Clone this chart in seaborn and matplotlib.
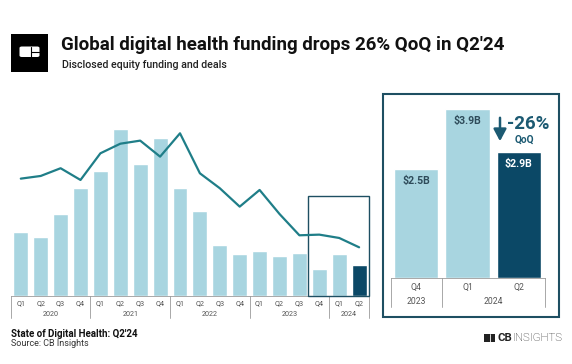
import numpy as np
import pandas as pd
import matplotlib
matplotlib.use("Agg")
import matplotlib.pyplot as plt
import seaborn as sns
from matplotlib.patches import Rectangle, FancyBboxPatch, FancyArrowPatch
from matplotlib.lines import Line2D

sns.set_theme(style="white")
plt.rcParams['font.family'] = ['Roboto', 'DejaVu Sans']

# ---------------- data ----------------
quarters = ["Q1", "Q2", "Q3", "Q4"] * 4 + ["Q1", "Q2"]
years = ["2020", "2021", "2022", "2023", "2024"]
funding_b = [6.0, 5.5, 7.6, 10.1, 11.7, 15.6, 12.3, 14.7, 10.1, 7.9,
             4.7, 3.9, 4.2, 3.7, 4.0, 2.5, 3.9, 2.9]
deals = [878, 898, 956, 868, 1068, 1140, 1163, 1043, 1218, 918,
         806, 668, 793, 613, 453, 458, 433, 363]

zoom_quarters = ["Q4", "Q1", "Q2"]
zoom_years = ["2023", "2024"]
zoom_funding = [2.5, 3.9, 2.9]
zoom_labels = ["$2.5B", "$3.9B", "$2.9B"]
change_label = "-26%"

title = "Global digital health funding drops 26% QoQ in Q2'24"
subtitle = "Disclosed equity funding and deals"
footer1 = "State of Digital Health: Q2'24"
footer2 = "Source: CB Insights"

LIGHT = "#A8D5E0"
DARK = "#0B4866"
LINE = "#1F7E88"
BOX = "#1E4F62"
TXT = "#555555"

W, H = 572, 364
fig = plt.figure(figsize=(W / 100, H / 100), dpi=100)
fig.patch.set_facecolor("white")


def fx(x):
    return x / W


def fy(y):
    return 1 - y / H


# ---------------- main chart ----------------
base = 295.7
top = 100.0
ax = fig.add_axes([fx(10.85), fy(base), 358.2 / W, (base - top) / H])
year_of = [y for y in years[:4] for _ in range(4)] + ["2024", "2024"]
periods = [f"{q} {y}" for q, y in zip(quarters, year_of)]
df = pd.DataFrame({"period": periods, "funding": funding_b,
                   "kind": ["hi" if i == len(periods) - 1 else "lo" for i in range(len(periods))]})
sns.barplot(data=df, x="period", y="funding", hue="kind", palette={"lo": LIGHT, "hi": DARK},
            dodge=False, width=0.75, ax=ax, legend=False, saturation=1)
ax.set_xlim(-0.5, 17.5)
ax.set_ylim(0, (base - top) / 10.7)
ax.set_xlabel("")
ax.set_ylabel("")
ax.set_yticks([])
ax.set_xticks(range(18))
ax.set_xticklabels(quarters, fontsize=5.2, color=TXT)
ax.tick_params(axis="x", length=0, pad=3.0)
for s in ["top", "right", "left"]:
    ax.spines[s].set_visible(False)
ax.spines["bottom"].set_color("#9a9a9a")
ax.spines["bottom"].set_linewidth(0.6)

ax2 = ax.twinx()
sns.lineplot(x=np.arange(18), y=deals, ax=ax2, color=LINE, linewidth=1.6)
ax2.set_ylim(0, (base - top) * 7.5)
ax2.set_yticks([])
ax2.set_ylabel("")
for s in ax2.spines.values():
    s.set_visible(False)
ax2.set_xlim(-0.5, 17.5)

# year groups
tr = ax.get_xaxis_transform()
dy = -22.3 / (base - top)
group_edges = [-0.5, 3.5, 7.5, 11.5, 15.5, 17.5]
for e in group_edges:
    ax.add_line(Line2D([e, e], [0, dy], transform=tr, color="#9a9a9a", lw=0.6, clip_on=False))
for i, yr in enumerate(years):
    c = (group_edges[i] + group_edges[i + 1]) / 2
    ax.text(c, -18.6 / (base - top), yr, transform=tr, ha="center", va="center",
            fontsize=5.2, color=TXT)

# highlight box in main chart
ax.add_patch(Rectangle((14.43, 0), 3.05, (base - 196) / 10.7, fill=False,
                       edgecolor=BOX, lw=1.0, clip_on=False, zorder=5))

# ---------------- zoom panel ----------------
fig.add_artist(Rectangle((fx(383.3), fy(317.3)), (558.7 - 383.3) / W, (317.3 - 94) / H,
                         transform=fig.transFigure, fill=False, edgecolor=BOX, lw=1.5))
zbase = 277.7
ztop = 100.0
axz = fig.add_axes([fx(390.5), fy(zbase), 154 / W, (zbase - ztop) / H])
dz = pd.DataFrame({"q": ["Q4 2023", "Q1 2024", "Q2 2024"], "funding": zoom_funding,
                   "kind": ["lo", "lo", "hi"]})
sns.barplot(data=dz, x="q", y="funding", hue="kind", palette={"lo": LIGHT, "hi": DARK},
            dodge=False, width=0.86, ax=axz, legend=False, saturation=1)
axz.set_xlim(-0.5, 2.5)
axz.set_ylim(0, (zbase - ztop) / 43.3)
axz.set_xlabel("")
axz.set_ylabel("")
axz.set_yticks([])
axz.set_xticks(range(3))
axz.set_xticklabels(zoom_quarters, fontsize=6.2, color=TXT)
axz.tick_params(axis="x", length=0, pad=3.6)
for s in ["top", "right", "left"]:
    axz.spines[s].set_visible(False)
axz.spines["bottom"].set_color("#9a9a9a")
axz.spines["bottom"].set_linewidth(0.6)
trz = axz.get_xaxis_transform()
zh = zbase - ztop
for e in [-0.5, 0.5, 2.5]:
    axz.add_line(Line2D([e, e], [0, -29 / zh], transform=trz, color="#9a9a9a", lw=0.6, clip_on=False))
axz.text(0, -23.3 / zh, zoom_years[0], transform=trz, ha="center", va="center", fontsize=6.2, color=TXT)
axz.text(1.5, -23.3 / zh, zoom_years[1], transform=trz, ha="center", va="center", fontsize=6.2, color=TXT)

for i, (v, lab) in enumerate(zip(zoom_funding, zoom_labels)):
    col = "white" if i == 2 else "#2E4B5A"
    axz.annotate(lab, (i, v), xytext=(0, -8.5), textcoords="offset points",
                 ha="center", va="center", fontsize=7.6, fontweight="bold", color=col)

# -26% annotation
fig.text(fx(528), fy(124), change_label, ha="center", va="center", fontsize=13.5,
         fontweight="bold", color="#1C5A72")
fig.text(fx(524), fy(140), "QoQ", ha="center", va="center", fontsize=7.2,
         fontweight="bold", color="#1C5A72")
fig.add_artist(FancyArrowPatch((fx(500), fy(115.0)), (fx(500), fy(144)),
                               transform=fig.transFigure,
                               arrowstyle="-|>,head_length=4.5,head_width=2.4",
                               mutation_scale=1.6, color="#1C5A72", lw=1.8))

# ---------------- header ----------------
fig.add_artist(Rectangle((fx(11), fy(71.7)), 37.3 / W, 37.7 / H, transform=fig.transFigure,
                         facecolor="black", edgecolor="none"))
fig.add_artist(FancyBboxPatch((fx(19.5), fy(57)), 20 / W, 10.5 / H, transform=fig.transFigure,
                              boxstyle="round,pad=0,rounding_size=0.004", facecolor="white", edgecolor="none"))
fig.add_artist(Line2D([fx(30.5), fx(30.5)], [fy(57), fy(46.5)], transform=fig.transFigure, color="black", lw=0.8))
fig.add_artist(Line2D([fx(30.5), fx(39.5)], [fy(51.5), fy(51.5)], transform=fig.transFigure, color="black", lw=0.8))

fig.text(fx(61), fy(45.5), title, ha="left", va="center", fontsize=13.5, fontweight="bold", color="#111111")
fig.text(fx(61.5), fy(65.5), subtitle, ha="left", va="center", fontsize=7.7, fontweight="medium", color="#222222")

# ---------------- footer ----------------
fig.text(fx(11), fy(334), footer1, ha="left", va="center", fontsize=7.0, fontweight="bold", color="#111111")
fig.text(fx(11), fy(343.5), footer2, ha="left", va="center", fontsize=6.5, color="#333333")

# CB Insights logo
fig.add_artist(Rectangle((fx(483.5), fy(342)), 11 / W, 8 / H, transform=fig.transFigure,
                         facecolor="#222222", edgecolor="none"))
fig.add_artist(Line2D([fx(489.5), fx(489.5)], [fy(342), fy(334)], transform=fig.transFigure, color="white", lw=0.6))
fig.text(fx(497), fy(338), "CB", ha="left", va="center", fontsize=8.2, fontweight="bold", color="#222222")
fig.text(fx(512.5), fy(338), "INSIGHTS", ha="left", va="center", fontsize=8.2, fontweight="light", color="#222222")

fig.savefig("out.png", dpi=100, facecolor="white")
